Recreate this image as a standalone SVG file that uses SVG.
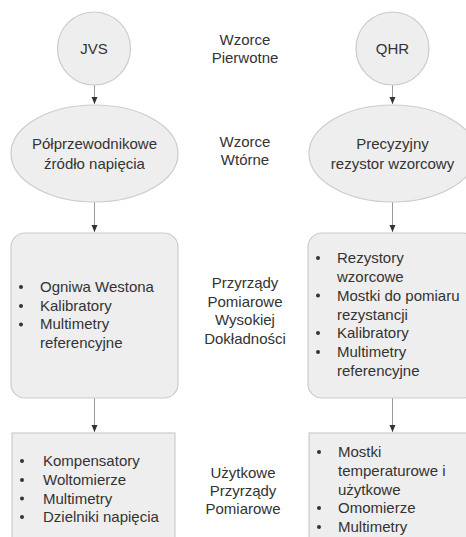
<svg xmlns="http://www.w3.org/2000/svg" width="466" height="537" viewBox="0 0 466 537">
<defs>
<style>
.node{fill:#eeeeee;stroke:#cccccc;stroke-width:1.2}
text{font-family:"Liberation Sans",Arial,sans-serif;font-size:15px;fill:#333333}
.c{text-anchor:middle}
.conn{stroke:#999999;stroke-width:1;fill:none}
.dot{fill:#333333}
</style>
<marker id="arr" markerWidth="8" markerHeight="8" viewBox="0 0 8 8" refX="7" refY="4" orient="auto" markerUnits="userSpaceOnUse">
<path d="M0,1 L7,4 L0,7 Z" fill="#333333"/>
</marker>
</defs>
<rect width="466" height="537" fill="#ffffff"/>
<g id="connectors">
<line class="conn" x1="94.5" y1="85" x2="94.5" y2="104" marker-end="url(#arr)"/>
<line class="conn" x1="94.5" y1="202" x2="94.5" y2="232" marker-end="url(#arr)"/>
<line class="conn" x1="94.5" y1="398" x2="94.5" y2="432" marker-end="url(#arr)"/>
<line class="conn" x1="392.5" y1="85" x2="392.5" y2="104" marker-end="url(#arr)"/>
<line class="conn" x1="392.5" y1="202" x2="392.5" y2="232" marker-end="url(#arr)"/>
<line class="conn" x1="392.5" y1="398" x2="392.5" y2="432" marker-end="url(#arr)"/>
</g>
<g id="jvs">
<circle class="node" cx="94" cy="48.5" r="36.5"/>
<text class="c" x="94" y="54">JVS</text>
</g>
<g id="qhr">
<circle class="node" cx="392.5" cy="48.5" r="36.5"/>
<text class="c" x="392.5" y="54">QHR</text>
</g>
<g id="label-pierwotne">
<text class="c" x="245" y="45">Wzorce</text>
<text class="c" x="245" y="63">Pierwotne</text>
</g>
<g id="polprzewodnikowe">
<ellipse class="node" cx="94.5" cy="153.5" rx="83.5" ry="48.5"/>
<text class="c" x="94.5" y="149">Półprzewodnikowe</text>
<text class="c" x="94.5" y="169">źródło napięcia</text>
</g>
<g id="precyzyjny">
<ellipse class="node" cx="392.5" cy="153.5" rx="83.5" ry="48.5"/>
<text class="c" x="392.5" y="149">Precyzyjny</text>
<text class="c" x="392.5" y="169">rezystor wzorcowy</text>
</g>
<g id="label-wtorne">
<text class="c" x="245" y="147">Wzorce</text>
<text class="c" x="245" y="165">Wtórne</text>
</g>
<g id="box-left-2">
<rect class="node" x="11" y="233" width="167" height="165" rx="14"/>
<circle class="dot" cx="21" cy="287" r="2"/>
<circle class="dot" cx="21" cy="306" r="2"/>
<circle class="dot" cx="21" cy="324.5" r="2"/>
<text x="40" y="292">Ogniwa Westona</text>
<text x="40" y="310.5">Kalibratory</text>
<text x="40" y="329">Multimetry</text>
<text x="40" y="347.5">referencyjne</text>
</g>
<g id="label-wysokiej">
<text class="c" x="245" y="288">Przyrządy</text>
<text class="c" x="245" y="306.5">Pomiarowe</text>
<text class="c" x="245" y="325">Wysokiej</text>
<text class="c" x="245" y="343.5">Dokładności</text>
</g>
<g id="box-right-2">
<rect class="node" x="308" y="233" width="169" height="165" rx="14"/>
<circle class="dot" cx="318" cy="258" r="2"/>
<circle class="dot" cx="318" cy="295.5" r="2"/>
<circle class="dot" cx="318" cy="333" r="2"/>
<circle class="dot" cx="318" cy="352" r="2"/>
<text x="337" y="263">Rezystory</text>
<text x="337" y="282">wzorcowe</text>
<text x="337" y="300.5">Mostki do pomiaru</text>
<text x="337" y="319.5">rezystancji</text>
<text x="337" y="338">Kalibratory</text>
<text x="337" y="357">Multimetry</text>
<text x="337" y="376">referencyjne</text>
</g>
<g id="box-left-3">
<rect class="node" x="12" y="433" width="163" height="120"/>
<circle class="dot" cx="22" cy="461" r="2"/>
<circle class="dot" cx="22" cy="480" r="2"/>
<circle class="dot" cx="22" cy="498.5" r="2"/>
<circle class="dot" cx="22" cy="517" r="2"/>
<text x="43" y="466">Kompensatory</text>
<text x="43" y="485">Woltomierze</text>
<text x="43" y="503.5">Multimetry</text>
<text x="43" y="522">Dzielniki napięcia</text>
</g>
<g id="label-uzytkowe">
<text class="c" x="243" y="478">Użytkowe</text>
<text class="c" x="243" y="496">Przyrządy</text>
<text class="c" x="243" y="514">Pomiarowe</text>
</g>
<g id="box-right-3">
<rect class="node" x="309" y="433" width="170" height="120"/>
<circle class="dot" cx="319" cy="452" r="2"/>
<circle class="dot" cx="319" cy="508" r="2"/>
<circle class="dot" cx="319" cy="527" r="2"/>
<text x="338" y="457">Mostki</text>
<text x="338" y="476">temperaturowe i</text>
<text x="338" y="494.5">użytkowe</text>
<text x="338" y="513">Omomierze</text>
<text x="338" y="532">Multimetry</text>
</g>
</svg>
